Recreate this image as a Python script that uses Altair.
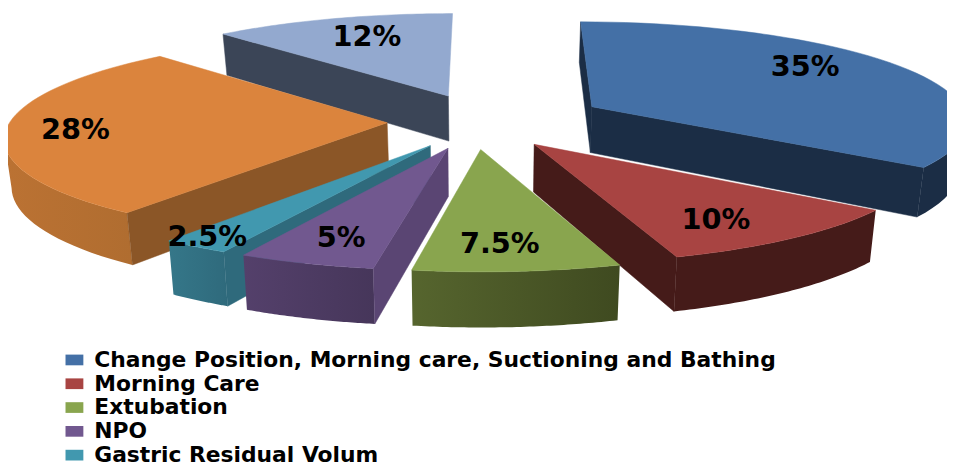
import math
import altair as alt

# ---- chart values ----
CATEGORIES = ["Change Position, Morning care, Suctioning and Bathing", "Morning Care", "Extubation",
              "NPO", "Gastric Residual Volum", "Other A", "Other B"]
SHARES = [35, 10, 7.5, 5, 2.5, 28, 12]
LABELS = ["35%", "10%", "7.5%", "5%", "2.5%", "28%", "12%"]
LEGEND_COUNT = 5  # the reference's legend is cut after five rows

# ---- styles ----
TOP = ["#4470A6", "#A84442", "#89A54E", "#71588F", "#4198AF", "#DB843D", "#93A9CF"]
RADIAL = ["#1B2D45", "#451B19", "#4A5728", "#5A4573", "#2F6A7C", "#8B5627", "#3B4557"]
ARC_RIGHT = ["#1B2D45", "#451B19", "#3F4A20", "#46365A", "#2F6A7C", "#B06D30", "#3B4557"]
ARC_LEFT = ["#1B2D45", "#451B19", "#56652E", "#54406B", "#357789", "#BB7233", "#3B4557"]
PAINT_ORDER = [6, 0, 5, 1, 4, 2, 3]

# ---- 3-D pie model ----
CX, CY, RX, RY, PERSP, DEPTH, SHRINK = 485, 112, 380, 100, 0.13, 47, 0.985
EXPLODE = [0.30, 0.20, 0.25, 0.25, 0.25, 0.27, 0.28]
NUDGE_X = [4, 0, -16, -11, -8, 0, -3]
NUDGE_Y = [-1, 7, 3, 3, 3, 0, 0]
LABEL_TEXT_AT = [(804, 58), (714, 212), (496, 236), (336, 230), (201, 229), (68, 121), (362, 27)]


def top_pt(u, v, i):
    w = 1 / (1 - PERSP * v)
    return [CX + NUDGE_X[i] + RX * u * w, CY + NUDGE_Y[i] + RY * v * w]


def bot_pt(u, v, i):
    w = 1 / (1 - PERSP * v)
    return [CX + NUDGE_X[i] + SHRINK * RX * u * w, CY + NUDGE_Y[i] + RY * v * w + DEPTH * w]


def feature(ring, color):
    return {"type": "Feature", "properties": {"fill": color},
            "geometry": {"type": "Polygon", "coordinates": [ring + [ring[0]]]}}


PROJ = dict(type="identity", scale=1, translate=[0, 0])
starts = [sum(SHARES[:i]) * 3.6 for i in range(len(SHARES))]
layers = []
for i in PAINT_ORDER:
    a0, a1 = starts[i], starts[i] + SHARES[i] * 3.6
    mid = math.radians((a0 + a1) / 2)
    au, av = EXPLODE[i] * math.sin(mid), -EXPLODE[i] * math.cos(mid)
    n = 48
    rim = []
    for k in range(n + 1):
        t = math.radians(a0 + (a1 - a0) * k / n)
        rim.append((au + math.sin(t), av - math.cos(t)))
    # rim wall: only the run of the rim that faces the viewer (x falling along the rim)
    front = [k for k in range(n + 1)
             if (k < n and top_pt(*rim[k + 1], i)[0] < top_pt(*rim[k], i)[0])
             or (k > 0 and top_pt(*rim[k], i)[0] < top_pt(*rim[k - 1], i)[0])]
    if front:
        run = [rim[k] for k in front]
        wall = [top_pt(u, v, i) for u, v in run] + [bot_pt(u, v, i) for u, v in reversed(run)]
        layers.append(
            alt.Chart(alt.Data(values=[feature(wall, ARC_LEFT[i])])).mark_geoshape(
                fill=alt.Gradient(gradient="linear", x1=0, x2=1, y1=0, y2=0,
                                  stops=[alt.GradientStop(offset=0, color=ARC_LEFT[i]),
                                         alt.GradientStop(offset=1, color=ARC_RIGHT[i])]),
                strokeWidth=0,
            ).project(**PROJ)
        )
    faces = []
    # cut faces turned toward the viewer
    if math.sin(math.radians(a0)) <= 1e-9:
        p = rim[0]
        faces.append(feature([top_pt(au, av, i), top_pt(*p, i), bot_pt(*p, i), bot_pt(au, av, i)], RADIAL[i]))
    if math.sin(math.radians(a1)) > 1e-9:
        p = rim[-1]
        faces.append(feature([top_pt(au, av, i), top_pt(*p, i), bot_pt(*p, i), bot_pt(au, av, i)], RADIAL[i]))
    # top face
    faces.append(feature([top_pt(au, av, i)] + [top_pt(u, v, i) for u, v in rim], TOP[i]))
    layers.append(
        alt.Chart(alt.Data(values=faces)).mark_geoshape(strokeWidth=0.5).encode(
            fill=alt.Fill("properties.fill:N", scale=None),
            stroke=alt.Stroke("properties.fill:N", scale=None),
        ).project(**PROJ)
    )

W, H = 947, 458

label_rows = [{"label": l, "x": p[0], "y": p[1]} for l, p in zip(LABELS, LABEL_TEXT_AT)]
labels = alt.Chart(alt.Data(values=label_rows)).mark_text(
    font="DejaVu Sans", fontWeight="bold", fontSize=29, color="black", align="center", baseline="middle"
).encode(
    x=alt.X("x:Q", scale=alt.Scale(domain=[0, W]), axis=None),
    y=alt.Y("y:Q", scale=alt.Scale(domain=[H, 0]), axis=None),
    text="label:N",
)

legend_rows = [{"cat": c} for c in CATEGORIES[:LEGEND_COUNT]]
legend = alt.Chart(alt.Data(values=legend_rows)).mark_square(opacity=0, size=1).encode(
    x=alt.value(0), y=alt.value(0),
    color=alt.Color("cat:N",
                    scale=alt.Scale(domain=CATEGORIES[:LEGEND_COUNT], range=TOP[:LEGEND_COUNT]),
                    legend=alt.Legend(title=None, orient="none", legendX=56, legendY=342,
                                      symbolType="M-1,-0.6H1V0.6H-1Z", symbolSize=324,
                                      symbolOpacity=1, symbolStrokeWidth=0,
                                      labelFont="DejaVu Sans", labelFontWeight="bold", labelFontSize=22,
                                      labelColor="black", labelLimit=900, rowPadding=2, labelOffset=9)),
)

chart = alt.layer(*layers, labels, legend).properties(
    width=W, height=H, padding=0, autosize=alt.AutoSizeParams(type="none")
).configure_view(stroke=None)

chart.save("out.html", embed_options={"renderer": "svg", "actions": False})
